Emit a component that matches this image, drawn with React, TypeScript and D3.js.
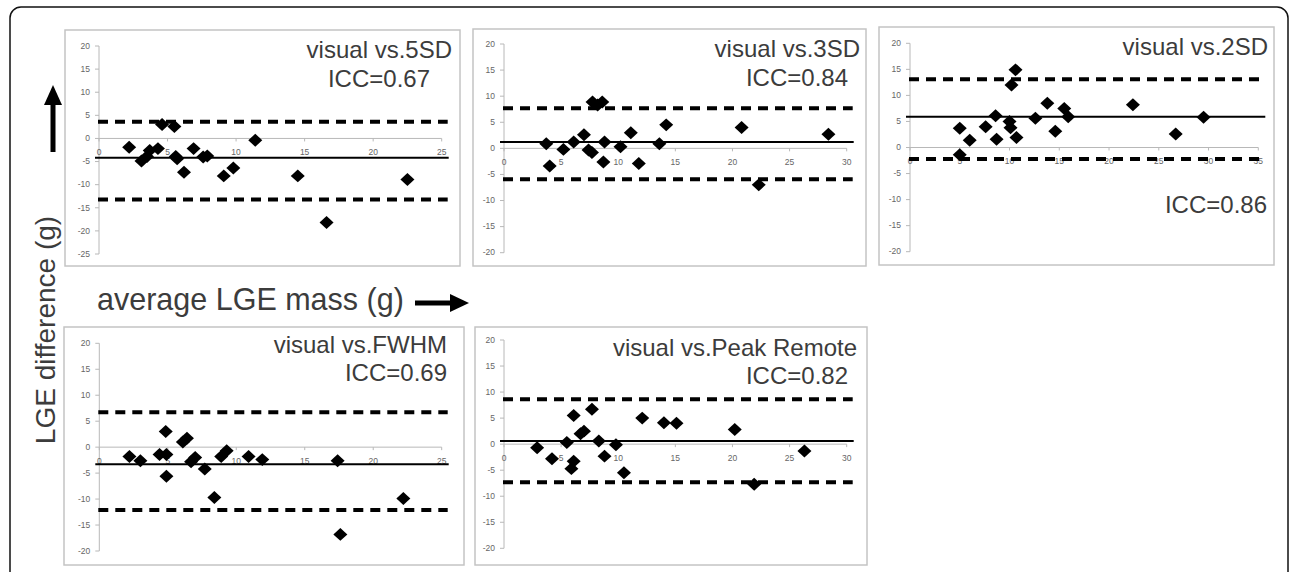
import React from 'react';
import { scaleLinear, symbol, line } from 'd3';

// values (x = average mass, y = difference)
const sd5X = [2.2, 3.1, 3.5, 3.7, 4.3, 4.6, 5.5, 5.6, 5.7, 6.2, 6.9, 7.6, 7.9, 9.1, 9.8, 11.4, 14.5, 16.6, 22.5];
const sd5Y = [-1.9, -4.9, -3.9, -2.6, -2.2, 3.0, 2.6, -3.9, -4.4, -7.3, -2.2, -4.0, -3.8, -8.1, -6.4, -0.4, -8.1, -18.2, -8.9];

const sd3X = [3.7, 4.0, 5.2, 6.1, 7.0, 7.4, 7.7, 7.75, 8.2, 8.6, 8.8, 8.7, 10.2, 11.1, 11.8, 13.6, 14.2, 20.8, 22.3, 28.4];
const sd3Y = [0.9, -3.4, -0.2, 1.2, 2.6, -0.3, -0.8, 8.9, 8.3, 8.9, 1.2, -2.6, 0.3, 3.0, -2.9, 0.9, 4.5, 4.0, -7.0, 2.7];

const sd2X = [5.0, 5.0, 6.0, 7.6, 8.6, 8.7, 10.0, 10.1, 10.2, 10.6, 10.7, 12.6, 13.8, 14.6, 15.5, 15.9, 22.4, 26.7, 29.5];
const sd2Y = [3.7, -1.4, 1.4, 4.0, 6.1, 1.6, 5.0, 3.8, 12.0, 14.9, 1.9, 5.6, 8.5, 3.1, 7.5, 5.9, 8.2, 2.6, 5.8];

const fwhmX = [2.2, 3.0, 4.4, 4.85, 4.9, 4.9, 6.1, 6.4, 6.7, 7.0, 7.7, 8.4, 8.9, 9.3, 10.9, 11.9, 17.4, 17.6, 22.2];
const fwhmY = [-1.8, -2.6, -1.4, 3.0, -1.4, -5.6, 1.0, 1.7, -2.8, -2.0, -4.2, -9.7, -1.8, -0.7, -1.8, -2.4, -2.6, -16.8, -9.9];

const peakX = [2.9, 4.2, 5.5, 6.1, 6.1, 5.9, 6.7, 7.0, 7.7, 8.3, 8.8, 9.8, 10.5, 12.1, 14.0, 15.1, 20.2, 21.9, 26.3];
const peakY = [-0.7, -2.8, 0.3, 5.5, -3.3, -4.7, 2.0, 2.5, 6.7, 0.6, -2.3, -0.1, -5.5, 5.0, 4.1, 4.0, 2.8, -7.7, -1.3];

const titles = ['visual vs.5SD', 'visual vs.3SD', 'visual vs.2SD', 'visual vs.FWHM', 'visual vs.Peak Remote'];
const iccLabels = ['ICC=0.67', 'ICC=0.84', 'ICC=0.86', 'ICC=0.69', 'ICC=0.82'];
const meanDiff = [-4.2, 1.2, 5.9, -3.3, 0.6];
const upperLoA = [3.6, 7.7, 13.1, 6.7, 8.6];
const lowerLoA = [-13.2, -5.9, -2.2, -12.1, -7.3];

const xTicks25 = [0, 5, 10, 15, 20, 25];
const xTicks30 = [0, 5, 10, 15, 20, 25, 30];
const xTicks35 = [0, 5, 10, 15, 20, 25, 30, 35];
const yTicks25 = [20, 15, 10, 5, 0, -5, -10, -15, -20, -25];
const yTicks20 = [20, 15, 10, 5, 0, -5, -10, -15, -20];

const seriesX = [sd5X, sd3X, sd2X, fwhmX, peakX];
const seriesY = [sd5Y, sd3Y, sd2Y, fwhmY, peakY];
const xTickSets = [xTicks25, xTicks30, xTicks35, xTicks25, xTicks30];
const yTickSets = [yTicks25, yTicks20, yTicks20, yTicks20, yTicks20];

// panel frames and plot areas, in pixels
const layout = [
  { box: [65, 30, 460, 266], x: [99, 441.7], y: [46, 254], title: [452, 58], icc: [430, 87] },
  { box: [473, 29, 866, 266], x: [504, 846.7], y: [44, 252.7], title: [860, 57], icc: [848, 86] },
  { box: [879, 27, 1274, 265], x: [910, 1258.3], y: [43.3, 251.7], title: [1268, 55], icc: [1267, 213] },
  { box: [64, 327, 464, 565], x: [99.3, 441.7], y: [343.3, 551], title: [447, 353], icc: [447, 381] },
  { box: [475, 327, 867, 565], x: [504, 846.7], y: [340, 548.3], title: [857, 356], icc: [848, 384] },
];

const font = '"Liberation Sans", Arial, sans-serif';
const textColor = '#3c3c3c';
const axisColor = '#b8b8b8';

const diamond = {
  draw(context, size) {
    const r = Math.sqrt(size / 2);
    context.moveTo(0, -r);
    context.lineTo(r * 1.08, 0);
    context.lineTo(0, r);
    context.lineTo(-r * 1.08, 0);
    context.closePath();
  }
};
const markerPath = symbol().type(diamond).size(84)();

const Panel = ({ i }) => {
  const L = layout[i];
  const xt = xTickSets[i];
  const yt = yTickSets[i];
  const xMax = xt[xt.length - 1];
  const yMin = yt[yt.length - 1];

  const xScale = scaleLinear().domain([0, xMax]).range(L.x);
  const yScale = scaleLinear().domain([yMin, 20]).range([L.y[1], L.y[0]]);

  const hLine = line();
  const refLine = (v, pad0, pad1) =>
    hLine([[xScale(0) - pad0, yScale(v)], [xScale(xMax) + pad1, yScale(v)]]);

  const [bx0, by0, bx1, by1] = L.box;

  return (
    <g className='panel'>
      <rect x={bx0} y={by0} width={bx1 - bx0} height={by1 - by0}
        fill='#fff' stroke='#c4c4c4' strokeWidth={1.5} />

      {/* y axis */}
      <line x1={xScale(0)} x2={xScale(0)} y1={yScale(20)} y2={yScale(yMin)}
        stroke={axisColor} strokeWidth={1} />
      {yt.map(v =>
        <g key={`yt-${i}-${v}`} transform={`translate(${xScale(0)}, ${yScale(v)})`}>
          <line x2={-4} stroke={axisColor} />
          <text x={-9} dy='0.32em' textAnchor='end' fontSize={8.5}
            fontFamily={font} fill='#666'>{v}</text>
        </g>
      )}

      {/* x axis on zero */}
      <line x1={xScale(0)} x2={xScale(xMax)} y1={yScale(0)} y2={yScale(0)}
        stroke={axisColor} strokeWidth={1} />
      {xt.map(v =>
        <g key={`xt-${i}-${v}`} transform={`translate(${xScale(v)}, ${yScale(0)})`}>
          <line y2={3} stroke={axisColor} />
          <text y={14} dy='0.32em' textAnchor='middle' fontSize={8.5}
            fontFamily={font} fill='#666'>{v}</text>
        </g>
      )}

      {/* mean and limits of agreement */}
      <path d={refLine(upperLoA[i], 1, 6)} stroke='#000' strokeWidth={4}
        strokeDasharray='10 7' fill='none' />
      <path d={refLine(lowerLoA[i], 1, 6)} stroke='#000' strokeWidth={4}
        strokeDasharray='10 7' fill='none' />
      <path d={refLine(meanDiff[i], 4, 7)} stroke='#000' strokeWidth={2} fill='none' />

      {seriesX[i].map((xv, j) =>
        <path key={`pt-${i}-${j}`} d={markerPath}
          transform={`translate(${xScale(xv)}, ${yScale(seriesY[i][j])})`} fill='#000' />
      )}

      <text x={L.title[0]} y={L.title[1]} textAnchor='end' fontSize={24}
        fontFamily={font} fill={textColor}>{titles[i]}</text>
      <text x={L.icc[0]} y={L.icc[1]} textAnchor='end' fontSize={24}
        fontFamily={font} fill={textColor}>{iccLabels[i]}</text>
    </g>
  );
};

const App = () => {
  const width = 1290;
  const height = 572;
  return (
    <svg width={width} height={height}
      style={{ position: 'absolute', left: 0, top: 0, background: '#fff' }}>
      <rect x={10} y={7} width={1278} height={620} rx={11} fill='#fff'
        stroke='#111' strokeWidth={1.5} />

      {titles.map((t, i) => <Panel key={t} i={i} />)}

      {/* global axis titles */}
      <text transform='translate(55, 330) rotate(-90)' textAnchor='middle'
        fontSize={28} fontFamily={font} fill={textColor}>LGE difference (g)</text>
      <rect x={50.5} y={100} width={5} height={52} fill='#000' />
      <path d='M53,85L62,105L44,105Z' fill='#000' />

      <text x={97} y={310} fontSize={30.5} fontFamily={font} fill={textColor}>
        average LGE mass (g)
      </text>
      <rect x={415} y={300.5} width={38} height={5} fill='#000' />
      <path d='M469,303L450,294L450,312Z' fill='#000' />
    </svg>
  );
};

export default App;
